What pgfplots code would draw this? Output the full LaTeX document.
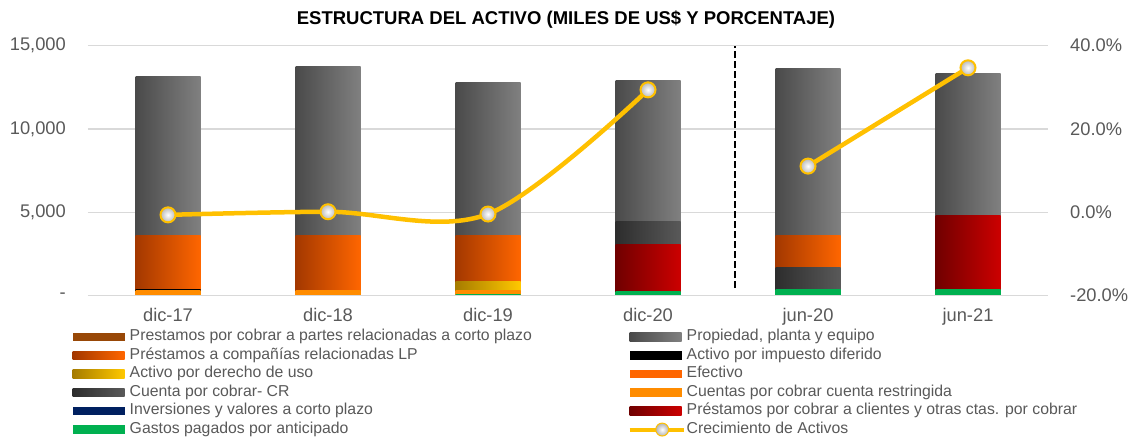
\documentclass[border=0pt]{standalone}
\usepackage{pgfplots}
\pgfplotsset{compat=1.18}
\usepackage{fontspec}
\setmainfont{Liberation Sans}
\definecolor{cPPEa}{HTML}{4A4A4A}\definecolor{cPPEb}{HTML}{808080}
\definecolor{cLPa}{HTML}{A33800}\definecolor{cLPb}{HTML}{FF6600}
\definecolor{cUSOa}{HTML}{A67C00}\definecolor{cUSOb}{HTML}{FFC800}
\definecolor{cCRa}{HTML}{2D2D2D}\definecolor{cCRb}{HTML}{595959}
\definecolor{cCLa}{HTML}{700000}\definecolor{cCLb}{HTML}{CC0000}
\definecolor{cEfe}{HTML}{FF6600}
\definecolor{cRes}{HTML}{FF8C00}
\definecolor{cInv}{HTML}{002060}
\definecolor{cGas}{HTML}{00B050}
\definecolor{cPar}{HTML}{984807}
\definecolor{cY}{HTML}{FFC000}
\definecolor{cTxt}{HTML}{595959}
\definecolor{cGrid}{HTML}{D9D9D9}
% one bar segment: x, cumulative top, left colour, right colour
\newcommand{\seg}[4]{\addplot[ybar, bar width=65pt, bar shift=0pt, draw=none, left color=#3, right color=#4, forget plot] coordinates {(#1,#2)};}
\pgfplotsset{
  gradsw/.style 2 args={legend image code/.code={\path[draw=none,fill=none] (0pt,-9.25pt) rectangle (57pt,9.25pt);\path[draw=none,left color=#1,right color=#2] (0pt,-4.25pt) rectangle (52pt,4.25pt);}},
  solidsw/.style={legend image code/.code={\path[draw=none,fill=none] (0pt,-9.25pt) rectangle (57pt,9.25pt);\path[draw=none,fill=#1] (0pt,-4.25pt) rectangle (52pt,4.25pt);}},
  linesw/.style={legend image code/.code={\path[draw=none,fill=none] (0pt,-9.25pt) rectangle (57pt,9.25pt);\draw[cY,line width=4pt] (0pt,0pt) -- (54pt,0pt);\node[circle,inner sep=0pt,minimum size=7pt,draw=cY,line width=1pt,inner color=white,outer color=gray!60] at (26pt,0pt) {};}},
  base/.style={at={(88pt,142.3pt)}, anchor=south west, scale only axis, width=960pt, height=250pt,
    xmin=-0.5, xmax=5.5, axis line style={draw=none}, major tick length=0pt, tick style={draw=none},
    scaled y ticks=false,
    ticklabel style={font=\fontsize{18.3}{21}\selectfont, text=cTxt}},
}
\begin{document}
\begin{tikzpicture}
\useasboundingbox (0pt,0pt) rectangle (1132pt,438pt);
\node[anchor=base, font=\fontsize{18.5}{21}\selectfont\bfseries, text=black] at (566pt,413.5pt) {ESTRUCTURA DEL ACTIVO (MILES DE US\$ Y PORCENTAJE)};
\begin{axis}[base, clip=false,
  ymin=0, ymax=15000,
  ytick={0,5000,10000,15000}, yticklabels={{-},{5,000},{10,000},{15,000}},
  yticklabel style={anchor=east, inner sep=0pt, xshift=-22pt},
  xtick={0,1,2,3,4,5}, xticklabels={dic-17,dic-18,dic-19,dic-20,jun-20,jun-21},
  xticklabel style={anchor=base, inner sep=0pt, yshift=-25.5pt},
  ymajorgrids, grid style={cGrid, line width=1.5pt}]
% dic-17
\seg{0}{13180}{cPPEa}{cPPEb}
\seg{0}{3600}{cLPa}{cLPb}
\seg{0}{400}{black}{black}
\seg{0}{300}{cRes}{cRes}
% dic-18
\seg{1}{13780}{cPPEa}{cPPEb}
\seg{1}{3600}{cLPa}{cLPb}
\seg{1}{300}{cRes}{cRes}
% dic-19
\seg{2}{12820}{cPPEa}{cPPEb}
\seg{2}{3600}{cLPa}{cLPb}
\seg{2}{880}{cUSOa}{cUSOb}
\seg{2}{300}{cRes}{cRes}
\seg{2}{100}{cGas}{cGas}
% dic-20
\seg{3}{12940}{cPPEa}{cPPEb}
\seg{3}{4480}{cCRa}{cCRb}
\seg{3}{3100}{cCLa}{cCLb}
\seg{3}{240}{cGas}{cGas}
% jun-20
\seg{4}{13660}{cPPEa}{cPPEb}
\seg{4}{3600}{cLPa}{cLPb}
\seg{4}{1720}{cCRa}{cCRb}
\seg{4}{380}{cGas}{cGas}
% jun-21
\seg{5}{13360}{cPPEa}{cPPEb}
\seg{5}{4840}{cCLa}{cCLb}
\seg{5}{380}{cGas}{cGas}
% baseline and separator
\addplot[cGrid, line width=1.5pt, forget plot] coordinates {(-0.5,0) (5.5,0)};
\addplot[black, line width=2.5pt, dash pattern=on 7pt off 3pt, forget plot] coordinates {(3.545,460) (3.545,15000)};
\end{axis}
\begin{axis}[base, clip=false,
  axis x line=none, axis y line*=right, xtick=\empty,
  ymin=-20, ymax=40,
  ytick={-20,0,20,40}, yticklabels={{-20.0\%},{0.0\%},{20.0\%},{40.0\%}},
  yticklabel style={anchor=west, inner sep=0pt, xshift=22pt},
  legend columns=2, legend cell align=left,
  legend style={at={(-0.0159,-0.1285)}, anchor=north west, draw=none, fill=none, inner sep=0pt, outer sep=0pt,
    row sep=0pt, column sep=0pt, font=\fontsize{15.8}{17}\selectfont, text=cTxt,
    nodes={inner sep=0pt, text height=10pt, text depth=3pt}}]
\addplot[cY, line width=4.5pt, smooth, tension=0.55, forget plot] coordinates {(0,-0.6) (1,0.15) (2,-0.4) (3,29.4)};
\addplot[cY, line width=4.5pt, smooth, tension=0.55, forget plot] coordinates {(4,11.1) (5,34.7)};
\addplot[draw=none, mark=none, forget plot, nodes near coords={}, nodes near coords align={center},
  every node near coord/.append style={anchor=center, circle, inner sep=0pt, minimum size=15pt, draw=cY, line width=2pt, inner color=white, outer color=gray!55}]
  coordinates {(0,-0.6) (1,0.15) (2,-0.4) (3,29.4) (4,11.1) (5,34.7)};
\addlegendimage{solidsw=cPar}\addlegendentry{\makebox[498pt][l]{Prestamos por cobrar a partes relacionadas a corto plazo}}
\addlegendimage{gradsw={cPPEa}{cPPEb}}\addlegendentry{Propiedad, planta y equipo}
\addlegendimage{gradsw={cLPa}{cLPb}}\addlegendentry{\makebox[498pt][l]{Préstamos a compañías relacionadas LP}}
\addlegendimage{solidsw=black}\addlegendentry{Activo por impuesto diferido}
\addlegendimage{gradsw={cUSOa}{cUSOb}}\addlegendentry{\makebox[498pt][l]{Activo por derecho de uso}}
\addlegendimage{solidsw=cEfe}\addlegendentry{Efectivo}
\addlegendimage{gradsw={cCRa}{cCRb}}\addlegendentry{\makebox[498pt][l]{Cuenta por cobrar- CR}}
\addlegendimage{solidsw=cRes}\addlegendentry{Cuentas por cobrar cuenta restringida}
\addlegendimage{solidsw=cInv}\addlegendentry{\makebox[498pt][l]{Inversiones y valores a corto plazo}}
\addlegendimage{gradsw={cCLa}{cCLb}}\addlegendentry{Préstamos por cobrar a clientes y otras ctas. por cobrar}
\addlegendimage{solidsw=cGas}\addlegendentry{\makebox[498pt][l]{Gastos pagados por anticipado}}
\addlegendimage{linesw}\addlegendentry{Crecimiento de Activos}
\end{axis}
\end{tikzpicture}
\end{document}
